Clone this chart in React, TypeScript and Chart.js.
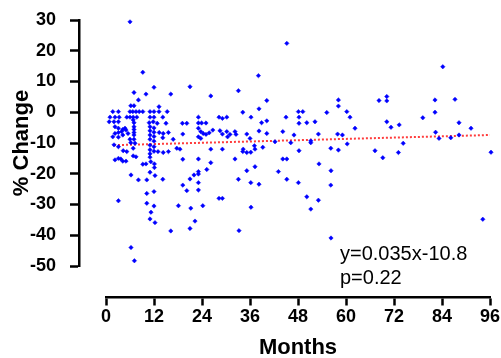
import React, { useEffect, useRef } from "react";
import { Chart, registerables } from "chart.js";

Chart.register(...registerables);

// Months since baseline for each observation
const months = [
  7, 10, 12, 16.2, 8.1, 6.2, 7, 13.25, 1.7, 3.1, 6, 6.7, 7.5, 8.3, 9.2, 11, 12, 13.25, 15.3,
  1, 2.25, 3.3, 5.2, 6, 6.8, 7.7, 11, 12, 14.2, 0.8, 2, 3.1, 6.8, 7, 10.8, 11.8, 12.8, 15,
  2.25, 3.1, 4.2, 4.75, 7, 7, 7, 7, 7, 11, 11, 11, 11, 12, 12, 12, 12, 13.3, 14.3, 15.6,
  2.25, 3.1, 3.9, 5, 1.7, 3.1, 4.2, 5.5, 6, 6.2, 7.25, 6.8, 2, 3.1, 4.3, 5.2, 11, 11, 11, 11,
  12, 12, 13, 14.3, 15.6, 17.7, 3.1, 3.7, 6.8, 7.5,
  6, 9.2, 21, 26.2, 33.1, 16.8, 14.2, 12.1,
  2.25, 4.2, 5, 9.2, 10, 11.2, 12.1, 6.25, 8.1, 10.2, 11, 12.25, 14.2, 10.2, 12, 3.1, 10.2, 12,
  11.25, 11, 12.25, 16.2, 18.1, 6.25, 7.1,
  34.2, 38.25, 19.1, 20.2, 23.1, 23.1, 23.9, 25, 28.25, 29.1, 30.2, 19.2, 23.1, 23.7, 24.3, 25,
  25.8, 26.7, 23.1, 23.7, 28.5, 29.1, 30.2, 31, 32.25, 32.5, 30.4, 35.2, 36, 38.25, 36.25,
  34.3, 34.2, 35.2, 36.2, 37.25, 26.2, 29.1, 23.1, 32.25, 18.5, 19.2, 26.2,
  22, 23.1, 23.1, 25.2, 21, 19.2, 20.2, 23.1, 23.1, 33.1, 35.2, 36.2, 37.25, 38.25, 28.25, 29.1,
  24.2, 21.2, 36.25, 22.25, 21, 33.25,
  38.1, 45.2, 40.2, 38.9, 40.2, 40.2, 37.1, 39.2, 42.25, 44.2, 45, 46.2, 47, 48.1, 49.2, 48.25,
  48.25, 50.2, 51.2, 51.2, 52.25, 53.1, 48.25, 44.2, 45.2, 43.1, 45.2, 53.25, 55.2, 56.2, 56.25,
  58.1, 58.1, 57.9, 59.1, 58.1, 60.2, 61, 60.3, 62.25, 48.1, 56.2, 50.2, 53.1, 51.2, 56.25,
  67.25, 68.25, 70.2, 70.2, 70.2, 71.25, 73.3, 69.2, 73.1, 74.3, 79.2, 82.25, 82.25, 82.4, 83.25,
  84.2, 86.2, 87.25, 88.25, 88.25, 91.25, 96.25, 94.2,
];

// Percent change for each observation (same order as months)
const pctChange = [
  6.4, 5.9, 8.1, 5.9, 4, 2.1, 2.1, 1.8, 0.2, 0.2, 0.2, 0.2, 0.2, 0.2, 0.2, 0.2, 0.2, 0.2, 0.2,
  -1.6, -1.6, -1.6, -1.6, -1.6, -1.6, -1.6, -1.6, -1.6, -1.6, -3.1, -3.1, -3.1, -2.5, -3.4, -3.4, -3.1, -3.6, -3.6,
  -4.7, -5.2, -5.6, -5.2, -4.7, -5.6, -6.6, -7.4, -8.8, -4.7, -6, -7.4, -8.8, -5.1, -6.5, -7.9, -9.4, -6.6, -6.9, -6.6,
  -6.9, -6.6, -6.3, -5.8, -8, -8.1, -7.4, -6.9, -8.8, -9.9, -10.1, -11.7, -10.6, -11.2, -12.5, -12.8, -10.7, -12.2, -13.5, -14.6,
  -11.2, -12.7, -12.8, -13.1, -12.8, -11.7, -15, -15.2, -14.2, -14.5,
  29.4, 13, 8.3, 5.3, 7, -8.8, -8.3, -18,
  -15.5, -15.9, -15.9, -16.9, -16.8, -16.1, -16.8, -20.4, -22, -22, -19.5, -20.6, -21.8, -26.4, -25.8, -28.8, -29.6, -30.5,
  -32.5, -34.7, -35.9, -38.6, -30.4, -44, -48.3,
  0, 1.1, -3.6, -3.6, -1.6, -3.5, -3.5, -3.5, -1.6, -2, -1.6, -7.1, -5.2, -6.3, -6.9, -7.2,
  -6.7, -5.8, -8, -8.5, -6, -7.1, -6.3, -7.2, -6.3, -7.2, -8, -7.1, -8.5, -6.1, -1.6,
  -12, -12.8, -13.1, -13, -12, -12, -12, -15.2, -15.2, -12, -15.3, -16.4,
  -20.4, -19.3, -20.1, -18.6, -21.7, -23.7, -25.5, -22.9, -25.3, -21.8, -19, -22.9, -17.7, -23.4, -28, -28,
  -30.4, -31.2, -30.9, -35.4, -37.8, -38.5,
  11.9, 22.4, 3.8, -3.4, -2.8, -6.9, -10.9, -11.4, -9.6, -6.3, -1.6, -9.9, -7.4, 0.2, 0.2, -1.6,
  -3.6, -3.4, -9.3, -9.9, -3.1, -7.1, -12.5, -15.2, -15.2, -19.3, -21.8, -16.8, -0.1, -11.7, -19,
  4, 2, -7.1, -7.4, -12.3, 0.2, -1.6, -10.3, -5.2, -22.9, -23.7, -27.5, -28.6, -31.5, -40.9,
  -12.5, 3.8, 5.1, 3.7, -3.1, -4.9, -4.1, -14.8, -13.1, -10.1, -1.8, 4, 0, -6.5, -8.5,
  14.8, -8.3, 4.2, -3.4, -7.4, -5.2, -13, -34.8,
];

// Fitted regression line end points
const trendMonths = [2, 96];
const trendValues = [-10.7, -7.4];

const xTicks = { min: 0, max: 96, step: 12 };
const yTicks = { min: -50, max: 30, step: 10 };

const equationText = "y=0.035x-10.8";
const pText = "p=0.22";
const xTitle = "Months";
const yTitle = "% Change";

const FONT = "'Liberation Sans', Arial, Helvetica, sans-serif";

const noPad = (s: any) => {
  s.paddingLeft = 0;
  s.paddingRight = 0;
  s.paddingTop = 0;
  s.paddingBottom = 0;
};

export default function App() {
  const ref = useRef<HTMLCanvasElement | null>(null);

  useEffect(() => {
    document.body.style.margin = "0";
    const canvas = ref.current;
    if (!canvas) return;

    const textPlugin = {
      id: "texts",
      afterDraw(chart: any) {
        const ctx = chart.ctx;
        const xs = chart.scales.x;
        const ys = chart.scales.y;
        ctx.save();
        ctx.fillStyle = "#000";
        ctx.font = `bold 22px ${FONT}`;
        ctx.textAlign = "center";
        ctx.textBaseline = "alphabetic";
        ctx.fillText(xTitle, (xs.left + xs.right) / 2, 354);
        ctx.save();
        ctx.translate(28, (ys.top + ys.bottom) / 2);
        ctx.rotate(-Math.PI / 2);
        ctx.fillText(yTitle, 0, 0);
        ctx.restore();
        ctx.font = `20px ${FONT}`;
        ctx.textAlign = "left";
        const ex = xs.getPixelForValue(58.5);
        ctx.fillText(equationText, ex, 259.5);
        ctx.fillText(pText, ex, 283.5);
        ctx.restore();
      },
    };

    const scatterData = months.map((m, i) => ({ x: m, y: pctChange[i] }));
    const trendData = trendMonths.map((m, i) => ({ x: m, y: trendValues[i] }));

    const tickFont = { family: FONT, size: 18, weight: "bold" as const };
    const axisGrid = {
      drawOnChartArea: false,
      drawTicks: true,
      tickWidth: 2.5,
      tickColor: "#000",
      color: "#000",
    };

    const chart = new Chart(canvas, {
      type: "scatter",
      data: {
        datasets: [
          {
            type: "line",
            data: trendData,
            borderColor: "#ff3c3c",
            borderWidth: 2,
            borderDash: [2, 2],
            pointRadius: 0,
            fill: false,
            order: 1,
          } as any,
          {
            type: "scatter",
            data: scatterData,
            backgroundColor: "#0000ff",
            borderColor: "#0000ff",
            borderWidth: 0.5,
            pointStyle: "rectRot",
            pointRadius: 2.2,
            clip: false,
            order: 0,
          } as any,
        ],
      },
      options: {
        animation: false,
        responsive: false,
        devicePixelRatio: 1,
        layout: { padding: { left: 0, top: 20, right: 11, bottom: 92 } },
        plugins: { legend: { display: false }, tooltip: { enabled: false } },
        scales: {
          x: {
            type: "linear",
            position: { y: -60 } as any,
            min: xTicks.min,
            max: xTicks.max,
            afterFit: noPad,
            ticks: { stepSize: xTicks.step, color: "#000", font: tickFont, padding: 2, maxRotation: 0 },
            grid: { ...axisGrid, tickLength: 7 },
            border: { display: true, color: "#000", width: 2.5 },
          },
          // labels of the value axis
          y: {
            type: "linear",
            position: "left",
            min: yTicks.min,
            max: yTicks.max,
            afterFit: (s: any) => {
              noPad(s);
              s.width = 106;
            },
            ticks: { stepSize: yTicks.step, color: "#000", font: tickFont, padding: 42 },
            grid: { display: false },
            border: { display: false },
          },
          // detached line and tick marks of the value axis
          yLine: {
            type: "linear",
            position: { x: -6.75 } as any,
            min: yTicks.min,
            max: yTicks.max,
            afterFit: noPad,
            ticks: { stepSize: yTicks.step, display: false },
            grid: { ...axisGrid, tickLength: 8 },
            border: { display: true, color: "#000", width: 2.5 },
          },
        },
      },
      plugins: [textPlugin],
    });

    return () => chart.destroy();
  }, []);

  return <canvas ref={ref} width={501} height={358} style={{ display: "block" }} />;
}
